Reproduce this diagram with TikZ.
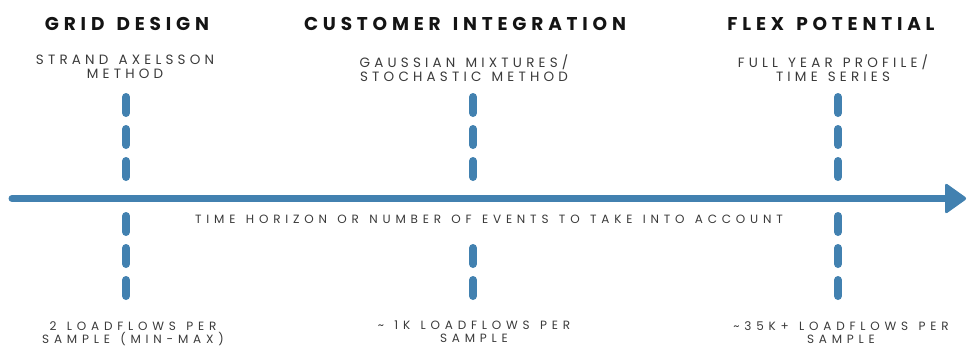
\documentclass[tikz,border=0pt]{standalone}
\usepackage{fontspec}
\setmainfont{Poppins}
\newfontfamily\ttlfont[LetterSpace=26,WordSpace=1.4]{Poppins}
\newfontfamily\subfont[LetterSpace=31,WordSpace=1.3]{Poppins}
\newfontfamily\botfont[LetterSpace=40,WordSpace=1.3]{Poppins}
\newcommand{\tld}{\char"7E\relax}
\definecolor{axisblue}{HTML}{4281B0}
\definecolor{ttlcol}{HTML}{141414}
\definecolor{subcol}{HTML}{3A3A3A}
\tikzset{
  ttl/.style={font=\ttlfont\bfseries\fontsize{18.5}{20}\selectfont, text=ttlcol, inner sep=0pt, anchor=center},
  sub/.style={font=\subfont\fontsize{13.5}{14}\selectfont, text=subcol, inner sep=0pt, align=center, anchor=north},
  bot/.style={font=\botfont\fontsize{12}{13}\selectfont, text=subcol, inner sep=0pt, align=center, anchor=north},
  dashline/.style={draw=axisblue, line width=8pt, line cap=round, dash pattern=on 16pt off 16pt},
  axisline/.style={draw=axisblue, line width=7pt, line cap=round},
  axishead/.style={fill=axisblue, draw=axisblue, line width=1pt, rounded corners=2pt}
}
\begin{document}
\begin{tikzpicture}[x=1pt,y=-1pt]
\useasboundingbox (0,0) rectangle (967,346);
% titles
\node[ttl] (t1) at (127,23.5) {GRID DESIGN};
\node[ttl] (t2) at (465,23.5) {CUSTOMER INTEGRATION};
\node[ttl] (t3) at (831,23.5) {FLEX POTENTIAL};
% subtitles
\node[sub] (s1) at (125,55) {STRAND AXELSSON\\METHOD};
\node[sub] (s2) at (464,55) {GAUSSIAN MIXTURES/\\STOCHASTIC METHOD};
\node[sub] (s3) at (833,55) {FULL YEAR PROFILE/\\TIME SERIES};
% bottom texts
\node[bot] (b1) at (133,321) {2 LOADFLOWS PER\\SAMPLE (MIN-MAX)};
\node[bot] (b2) at (474,321) {\tld{} 1K LOADFLOWS PER\\SAMPLE};
\node[bot] (b3) at (841,321) {\tld 35K+ LOADFLOWS PER\\SAMPLE};
% axis label
\node[bot, anchor=center] (ax) at (489,219.5) {TIME HORIZON OR NUMBER OF EVENTS TO TAKE INTO ACCOUNT};
% dashed markers
\coordinate (d1a) at (126,97);  \coordinate (d1b) at (126,177);
\coordinate (d1c) at (126,216); \coordinate (d1d) at (126,296);
\coordinate (d2a) at (473,97);  \coordinate (d2b) at (473,177);
\coordinate (d2c) at (473,248); \coordinate (d2d) at (473,296);
\coordinate (d3a) at (838,97);  \coordinate (d3b) at (838,177);
\coordinate (d3c) at (838,216); \coordinate (d3d) at (838,296);
\draw[dashline] (d1a) -- (d1b);
\draw[dashline] (d1c) -- (d1d);
\draw[dashline] (d2a) -- (d2b);
\draw[dashline] (d2c) -- (d2d);
\draw[dashline] (d3a) -- (d3b);
\draw[dashline] (d3c) -- (d3d);
% axis
\coordinate (axs) at (12,198.5);
\coordinate (axe) at (947,198.5);
\draw[axisline] (axs) -- (axe);
\path[axishead] (945.5,183.5) -- (966.5,198.5) -- (945.5,213.5) -- cycle;
\end{tikzpicture}
\end{document}
